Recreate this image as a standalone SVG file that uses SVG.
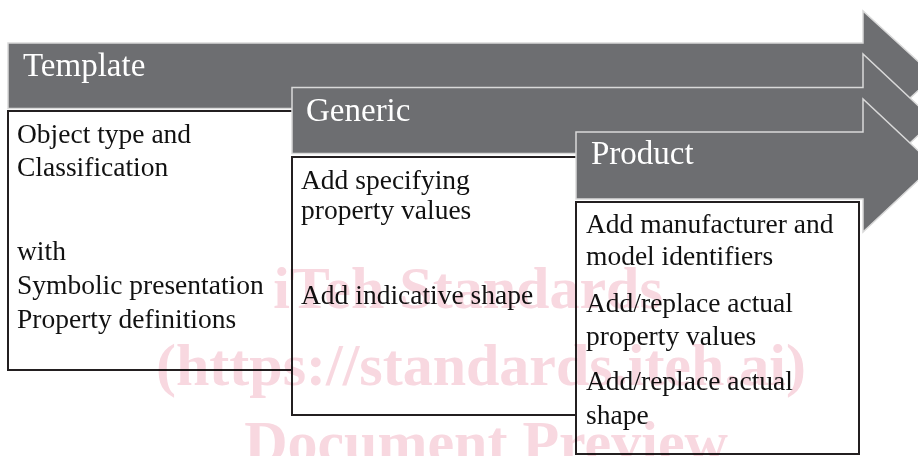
<svg xmlns="http://www.w3.org/2000/svg" width="918" height="456" viewBox="0 0 918 456">
  <style>
    .arrow { fill: #6d6e71; stroke: #d9d9d9; stroke-width: 1.5; }
    .box { fill: #ffffff; stroke: #231f20; stroke-width: 2; }
    .head { font-family: "Liberation Serif", serif; font-size: 33px; fill: #ffffff; }
    .body { font-family: "Liberation Serif", serif; font-size: 27.5px; fill: #111111; }
    .wm { font-family: "Liberation Serif", serif; font-weight: bold; font-size: 60px; fill: #f8d8e0; text-anchor: middle; }
  </style>
  <rect x="0" y="0" width="918" height="456" fill="#ffffff"/>

  <g id="template">
    <path class="arrow" d="M8,43 H863 V11 L934,76 L863,141 V108.5 H8 Z"/>
    <text class="head" x="23" y="76">Template</text>
    <path class="box" d="M300,111 H8 V370 H300"/>
    <text class="body" x="17" y="143">Object type and</text>
    <text class="body" x="17" y="176">Classification</text>
    <text class="body" x="17" y="260">with</text>
    <text class="body" x="17" y="294">Symbolic presentation</text>
    <text class="body" x="17" y="328">Property definitions</text>
  </g>

  <g id="generic">
    <path class="arrow" d="M292,87.5 H863 V54 L934,120.5 L863,187 V153.5 H292 Z"/>
    <text class="head" x="306" y="121">Generic</text>
    <path class="box" d="M600,157 H292 V415 H600"/>
    <text class="body" x="301" y="189">Add specifying</text>
    <text class="body" x="301" y="219">property values</text>
    <text class="body" x="301" y="304">Add indicative shape</text>
  </g>

  <g id="product">
    <path class="arrow" d="M576,132 H863 V99 L934,165.5 L863,232 V199 H576 Z"/>
    <text class="head" x="591" y="163.5">Product</text>
    <rect class="box" x="576" y="202" width="283" height="252"/>
    <text class="body" x="586" y="233">Add manufacturer and</text>
    <text class="body" x="586" y="265">model identifiers</text>
    <text class="body" x="586" y="312">Add/replace actual</text>
    <text class="body" x="586" y="345">property values</text>
    <text class="body" x="586" y="390">Add/replace actual</text>
    <text class="body" x="586" y="424">shape</text>
  </g>

  <g id="connectors"></g>

  <g id="watermark" style="mix-blend-mode:multiply">
    <text class="wm" x="468" y="308">iTeh Standards</text>
    <text class="wm" x="481" y="385">(https://standards.iteh.ai)</text>
    <text class="wm" x="486" y="462">Document Preview</text>
  </g>
</svg>
